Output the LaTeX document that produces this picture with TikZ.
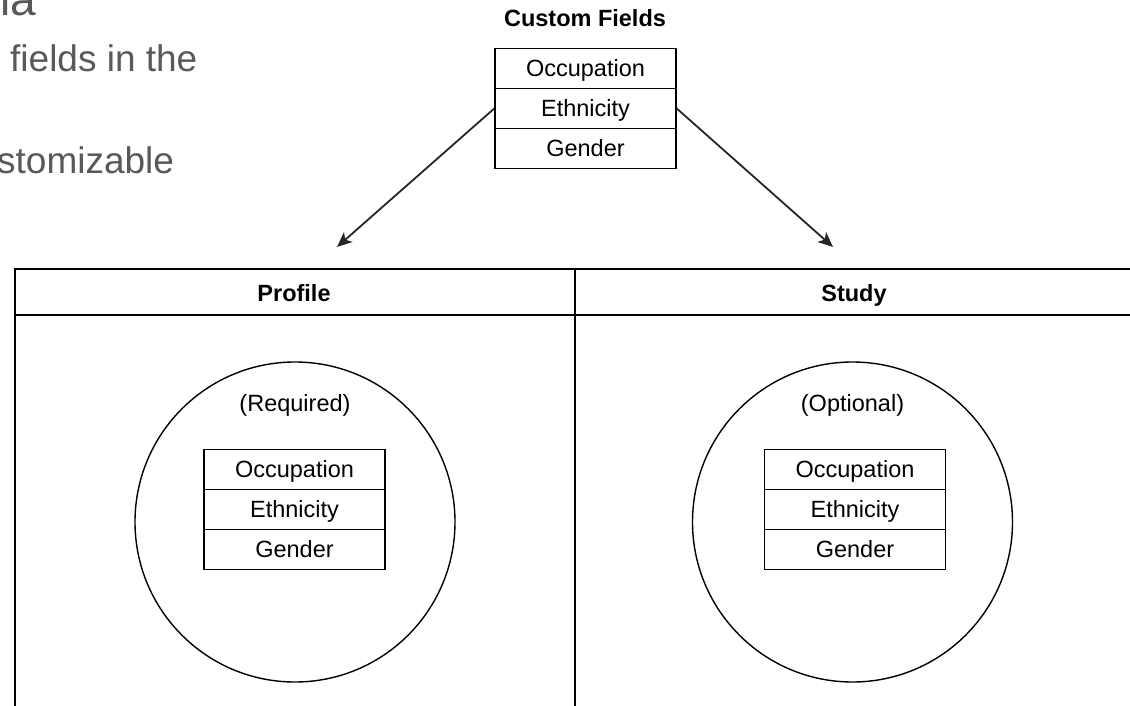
\documentclass[tikz,border=0pt]{standalone}
\usepackage{fontspec}
\setmainfont{Liberation Sans}
\usetikzlibrary{arrows.meta}
\definecolor{graytext}{HTML}{595959}
\tikzset{
  field/.style={draw=black, line width=1.5pt, minimum width=181pt, minimum height=40pt, inner sep=0pt, text height=16.5pt, text depth=0pt, font=\fontsize{23.5}{27}\selectfont},
  lbl/.style={inner sep=0pt, text height=16.5pt, text depth=0pt, font=\fontsize{23.5}{27}\selectfont},
  hdr/.style={inner sep=0pt, text height=16.5pt, text depth=0pt, font=\fontsize{23.5}{27}\selectfont\bfseries},
  prose/.style={inner sep=0pt, text=graytext, font=\fontsize{37}{44}\selectfont, anchor=base west},
  tbl/.style={draw=black, line width=2.2pt},
  ring/.style={draw=black, line width=1.4pt, circle, minimum size=320pt, inner sep=0pt},
  conn/.style={draw=black!85, line width=1.8pt, -{Stealth[length=15pt, width=13pt, inset=4pt]}}
}
\begin{document}
\begin{tikzpicture}[x=1pt,y=-1pt]
\useasboundingbox (0,0) rectangle (1130,706);
\clip (0,0) rectangle (1130,706);
\fill[white] (0,0) rectangle (1130,706);
% prose text (cropped at the picture's edges, as in the reference)
\node[prose, font=\fontsize{46}{52}\selectfont] (p0) at (0,16) {ia};
\node[prose] (p1) at (10,72) {fields in the};
\node[prose] (p2) at (-3,174) {stomizable};
% custom fields box
\node[hdr] (cft) at (585,18) {Custom Fields};
\node[field] (cf1) at (585.5,68.5) {Occupation};
\node[field] (cf2) at (585.5,108.5) {Ethnicity};
\node[field] (cf3) at (585.5,148.5) {Gender};
% table
\coordinate (tl) at (15,269);
\coordinate (tr) at (1145,269);
\coordinate (hl) at (15,315);
\coordinate (hr) at (1145,315);
\coordinate (bl) at (15,720);
\coordinate (mt) at (575,269);
\coordinate (mb) at (575,720);
\draw[tbl] (bl) -- (tl) -- (tr);
\draw[tbl] (hl) -- (hr);
\draw[tbl] (mt) -- (mb);
\node[hdr] (ph) at (294,293.5) {Profile};
\node[hdr] (sh) at (854,293.5) {Study};
% arrows
\coordinate (la) at (337,247);
\coordinate (ra) at (833,247);
\draw[conn] (cf2.west) -- (la);
\draw[conn] (cf2.east) -- (ra);
% profile circle
\node[ring] (pc) at (295,522) {};
\node[lbl] (req) at (295,403) {(Required)};
\node[field] (p1f) at (294.5,469.5) {Occupation};
\node[field] (p2f) at (294.5,509.5) {Ethnicity};
\node[field] (p3f) at (294.5,549.5) {Gender};
% study circle
\node[ring] (sc) at (852.5,522) {};
\node[lbl] (opt) at (852.5,403) {(Optional)};
\node[field] (s1f) at (855,469.5) {Occupation};
\node[field] (s2f) at (855,509.5) {Ethnicity};
\node[field] (s3f) at (855,549.5) {Gender};
\end{tikzpicture}
\end{document}
